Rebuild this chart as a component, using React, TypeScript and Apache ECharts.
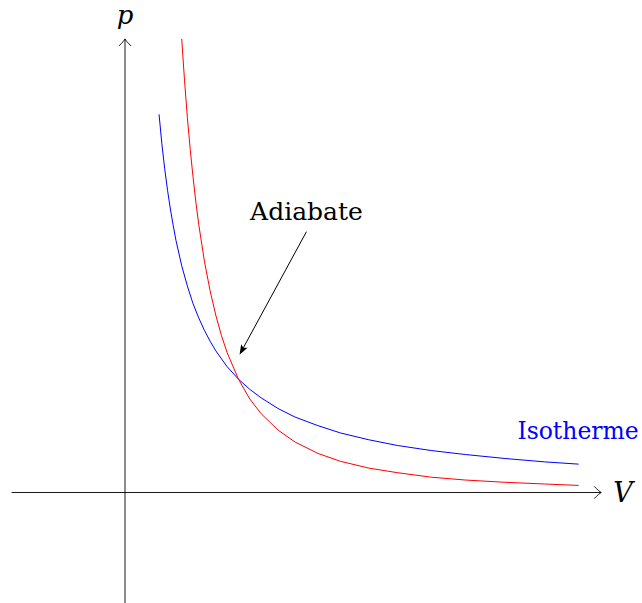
import React, { useEffect, useRef } from "react";
import * as echarts from "echarts";

// Isotherm p(V) readings
const ISO_V = [0.6, 0.65, 0.7, 0.75, 0.8, 0.85, 0.9, 1.0, 1.1, 1.2, 1.3, 1.4, 1.5, 1.6, 1.8, 2.0, 2.2, 2.4, 2.7, 3.0, 3.4, 3.8, 4.3, 4.8, 5.4, 6.0, 6.7, 7.4, 8.0];
const ISO_P = [6.67, 6.15, 5.71, 5.33, 5.0, 4.71, 4.44, 4.0, 3.64, 3.33, 3.08, 2.86, 2.67, 2.5, 2.22, 2.0, 1.82, 1.67, 1.48, 1.33, 1.18, 1.05, 0.93, 0.83, 0.74, 0.67, 0.6, 0.54, 0.5];

// Adiabat p(V) readings
const ADI_V = [1.0, 1.05, 1.1, 1.15, 1.2, 1.25, 1.3, 1.4, 1.5, 1.6, 1.7, 1.8, 2.0, 2.2, 2.4, 2.7, 3.0, 3.4, 3.8, 4.3, 4.8, 5.4, 6.0, 6.7, 7.4, 8.0];
const ADI_P = [8.0, 7.26, 6.61, 6.05, 5.56, 5.12, 4.73, 4.08, 3.56, 3.13, 2.77, 2.47, 2.0, 1.65, 1.39, 1.1, 0.89, 0.69, 0.55, 0.43, 0.35, 0.27, 0.22, 0.18, 0.15, 0.125];

// Axis extents: [x0, y0, x1, y1]
const AXES = [
  [-2, 0, 8.4, 0],
  [0, -2, 0, 8],
];

// Annotation arrow: from [x, y] to [x, y]
const ANNOT_ARROW = [[3.2, 4.6, 2.02, 2.43]];

// Text labels
const LABEL_TEXT = ["Adiabate", "Isotherme", "p", "V"];
const LABEL_X = [3.2, 7.99, 0, 8.78];
const LABEL_Y = [4.96, 1.09, 8.42, 0];

const zip = (a: number[], b: number[]) => a.map((v, i) => [v, b[i]]);

const SERIF = "DejaVu Serif";

const LABEL_STYLE = [
  { fontStyle: "normal", fontSize: 25, fill: "#000000" },
  { fontStyle: "normal", fontSize: 23.5, fill: "#0000ff" },
  { fontStyle: "italic", fontSize: 26, fill: "#000000" },
  { fontStyle: "italic", fontSize: 27, fill: "#000000" },
];

function openHead(tx: number, ty: number, dx: number, dy: number) {
  const nx = -dy;
  const ny = dx;
  const L = 6.8;
  const W = 5.8;
  const c = 2.2;
  const cw = 1.0;
  const b1 = [tx - L * dx + W * nx, ty - L * dy + W * ny];
  const q1 = [tx - c * dx + cw * nx, ty - c * dy + cw * ny];
  const b2 = [tx - L * dx - W * nx, ty - L * dy - W * ny];
  const q2 = [tx - c * dx - cw * nx, ty - c * dy - cw * ny];
  return `M${b1[0]} ${b1[1]} Q${q1[0]} ${q1[1]} ${tx} ${ty} Q${q2[0]} ${q2[1]} ${b2[0]} ${b2[1]}`;
}

export default function App() {
  const ref = useRef<HTMLDivElement>(null);

  useEffect(() => {
    if (!ref.current) return;
    const chart = echarts.init(ref.current, null, { renderer: "svg" });

    chart.setOption({
      animation: false,
      backgroundColor: "#ffffff",
      grid: { left: 11.6, right: 35, top: 10.55, bottom: 2.77 },
      xAxis: { type: "value", min: -2, max: 8.5, show: false },
      yAxis: { type: "value", min: -1.9, max: 8.5, show: false },
      series: [
        {
          type: "custom",
          name: "axes",
          clip: false,
          silent: true,
          data: AXES,
          encode: { x: [0, 2], y: [1, 3] },
          renderItem: (_params: any, api: any) => {
            const a = api.coord([api.value(0), api.value(1)]);
            const b = api.coord([api.value(2), api.value(3)]);
            const len = Math.hypot(b[0] - a[0], b[1] - a[1]);
            const dx = (b[0] - a[0]) / len;
            const dy = (b[1] - a[1]) / len;
            return {
              type: "group",
              children: [
                {
                  type: "line",
                  shape: { x1: a[0], y1: a[1], x2: b[0] - dx * 0.5, y2: b[1] - dy * 0.5 },
                  style: { stroke: "#000", lineWidth: 0.9 },
                },
                {
                  type: "path",
                  shape: { pathData: openHead(b[0], b[1], dx, dy) },
                  style: { stroke: "#000", fill: "none", lineWidth: 0.9, lineCap: "round" },
                },
              ],
            };
          },
        },
        {
          type: "line",
          name: "Isotherme",
          data: zip(ISO_V, ISO_P),
          showSymbol: false,
          clip: false,
          lineStyle: { color: "#0000ff", width: 1 },
          z: 3,
        },
        {
          type: "line",
          name: "Adiabate",
          data: zip(ADI_V, ADI_P),
          showSymbol: false,
          clip: false,
          lineStyle: { color: "#ff0000", width: 1 },
          z: 3,
        },
        {
          type: "custom",
          name: "annotation",
          clip: false,
          silent: true,
          data: ANNOT_ARROW,
          encode: { x: [0, 2], y: [1, 3] },
          renderItem: (_params: any, api: any) => {
            const a = api.coord([api.value(0), api.value(1)]);
            const b = api.coord([api.value(2), api.value(3)]);
            const len = Math.hypot(b[0] - a[0], b[1] - a[1]);
            const dx = (b[0] - a[0]) / len;
            const dy = (b[1] - a[1]) / len;
            const nx = -dy;
            const ny = dx;
            const HL = 10;
            const HW = 3.6;
            const base = [b[0] - dx * HL, b[1] - dy * HL];
            return {
              type: "group",
              children: [
                {
                  type: "line",
                  shape: { x1: a[0], y1: a[1], x2: base[0] + dx * 2, y2: base[1] + dy * 2 },
                  style: { stroke: "#000", lineWidth: 1 },
                },
                {
                  type: "polygon",
                  shape: {
                    points: [
                      [b[0], b[1]],
                      [base[0] + nx * HW, base[1] + ny * HW],
                      [base[0] + dx * 2, base[1] + dy * 2],
                      [base[0] - nx * HW, base[1] - ny * HW],
                    ],
                  },
                  style: { fill: "#000", stroke: "none" },
                },
              ],
            };
          },
        },
        {
          type: "custom",
          name: "labels",
          clip: false,
          silent: true,
          data: LABEL_TEXT.map((_t, i) => [LABEL_X[i], LABEL_Y[i], i]),
          encode: { x: 0, y: 1 },
          renderItem: (params: any, api: any) => {
            const p = api.coord([api.value(0), api.value(1)]);
            const i = params.dataIndex;
            const s = LABEL_STYLE[i];
            return {
              type: "text",
              x: p[0],
              y: p[1],
              style: {
                text: LABEL_TEXT[i],
                font: `${s.fontStyle} normal ${s.fontSize}px "${SERIF}"`,
                fill: s.fill,
                align: "center",
                verticalAlign: "middle",
              },
            };
          },
        },
      ],
    });

    return () => chart.dispose();
  }, []);

  return (
    <div
      ref={ref}
      style={{ position: "fixed", left: 0, top: 0, width: 642, height: 603, background: "#fff" }}
    />
  );
}
